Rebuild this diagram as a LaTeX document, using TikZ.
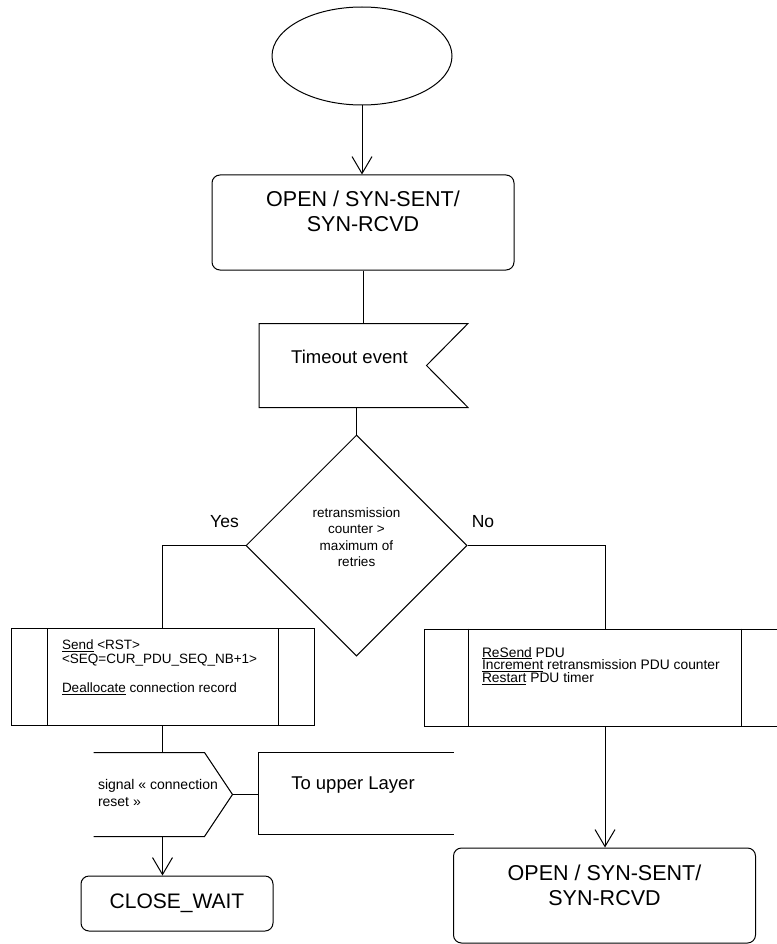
\documentclass[tikz,border=0pt]{standalone}
\usepackage{fontspec}
\setmainfont{Liberation Sans}
\usepackage{tikz}
\usetikzlibrary{shapes.geometric, arrows.meta, calc}
\tikzset{
    statebox/.style={draw, rounded corners=8pt, minimum width=302pt, minimum height=95pt, inner sep=0pt},
    procbox/.style={draw, minimum height=97pt, inner sep=0pt},
    decbox/.style={draw, diamond, aspect=1, minimum width=221pt, minimum height=221pt, inner sep=0pt},
    bigtext/.style={font=\fontsize{21.5}{25}\selectfont, align=center, inner sep=0pt},
    midtext/.style={font=\fontsize{18.5}{22}\selectfont, inner sep=0pt},
    smalltext/.style={font=\fontsize{#1}{#1}\selectfont, align=left, inner sep=0pt},
}

\begin{document}
\begin{tikzpicture}[x=1pt, y=-1pt, line width=1pt, >={Straight Barb[length=17pt, width=20pt]}]
\useasboundingbox (0,0) rectangle (776,944);
% start and states
\node[draw, ellipse, minimum width=180pt, minimum height=98pt, inner sep=0pt] (start) at (362,56) {};
\node[statebox, label={[bigtext, yshift=11pt]center:{OPEN / SYN-SENT/\\SYN-RCVD}}] (open1) at (363,222.5) {};
\node[statebox, label={[bigtext, yshift=10pt]center:{OPEN / SYN-SENT/\\SYN-RCVD}}] (open2) at (604.5,895.5) {};
\node[draw, rounded corners=8pt, minimum width=192pt, minimum height=55pt, font=\fontsize{21}{24}\selectfont] (close) at (177,903.5) {CLOSE\_WAIT};
% timeout event
\node[minimum width=208pt, minimum height=83pt, inner sep=0pt, label={[midtext, xshift=-14pt, yshift=9pt]center:Timeout event}] (tmo) at (363.5,365.5) {};
\draw (tmo.north east) -- (tmo.north west) -- (tmo.south west) -- (tmo.south east) -- ($(tmo.east)+(-41.5,0)$) -- cycle;
% decision
\node[decbox, label={[font=\fontsize{13.5}{16.5}\selectfont, align=center, inner sep=0pt, yshift=8.5pt]center:{retransmission\\counter >\\maximum of\\retries}}] (dec) at (356.5,545.5) {};
\node[font=\fontsize{17.5}{20}\selectfont, inner sep=0pt] (yes) at ([shift={(-21,-23.5)}]dec.west) {Yes};
\node[font=\fontsize{17.5}{20}\selectfont, inner sep=0pt] (no) at ([shift={(15.5,-23.5)}]dec.east) {No};
% procedures
\node[procbox, minimum width=303pt, label={[smalltext=13.5, anchor=north west, xshift=51pt, yshift=-11.7pt]north west:{\underline{Send} <RST>\\<SEQ=CUR\_PDU\_SEQ\_NB+1>\\[16pt]\underline{Deallocate} connection record}}] (proc1) at (162.5,677) {};
\draw ([xshift=37pt]proc1.north west) -- ([xshift=37pt]proc1.south west);
\draw ([xshift=-36pt]proc1.north east) -- ([xshift=-36pt]proc1.south east);
\node[procbox, minimum width=362pt, label={[font=\fontsize{13.8}{12.8}\selectfont, align=left, inner sep=0pt, anchor=north west, xshift=58pt, yshift=-18pt]north west:{\underline{ReSend} PDU\\\underline{Increment} retransmission PDU counter\\\underline{Restart} PDU timer}}] (proc2) at (605,677.5) {};
\draw ([xshift=45pt]proc2.north west) -- ([xshift=45pt]proc2.south west);
\draw ([xshift=-45pt]proc2.north east) -- ([xshift=-45pt]proc2.south east);
% signal output
\node[minimum width=138pt, minimum height=83pt, inner sep=0pt, label={[font=\fontsize{14}{17}\selectfont, align=left, inner sep=0pt, anchor=west, xshift=4pt, yshift=2pt]west:{signal « connection\\reset »}}] (sig) at (163,794.5) {};
\draw (sig.north west) -- ($(sig.north east)+(-28,0)$) -- (sig.east) -- ($(sig.south east)+(-28,0)$) -- (sig.south west);
\node[minimum width=194pt, minimum height=81pt, inner sep=0pt, label={[midtext, xshift=-3pt, yshift=8pt]center:To upper Layer}] (upper) at (356,793.5) {};
\draw (upper.north east) -- (upper.north west) -- (upper.south west) -- (upper.south east);
% arrows
\draw[->] (start.south) -- (start.south |- open1.north);
\draw (open1.south) -- (open1.south |- tmo.north);
\draw (dec.north) -- (dec.north |- tmo.south);
\draw (dec.west) -| (proc1.north);
\draw (dec.east) -| (proc2.north);
\draw (proc1.south) -- (proc1.south |- sig.north);
\draw (sig.east) -- (sig.east -| upper.west);
\draw[->] (proc1.south |- sig.south) -- (proc1.south |- close.north);
\draw[->] (proc2.south) -- (proc2.south |- open2.north);
\end{tikzpicture}
\end{document}
